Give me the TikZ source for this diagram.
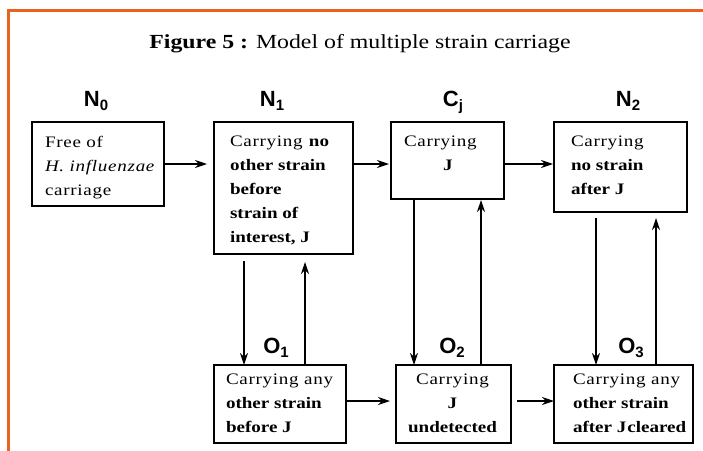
\documentclass[tikz,border=0pt]{standalone}
\usepackage{fontspec}
\usetikzlibrary{arrows.meta,calc}
\setmainfont{Liberation Serif}[FakeStretch=1.19]
\newfontfamily\boxfont{Liberation Serif}[FakeStretch=1.19,UprightFeatures={LetterSpace=4.5},ItalicFeatures={LetterSpace=4.5}]
\newfontfamily\labfont{Liberation Sans}
\definecolor{frameorange}{RGB}{236,98,28}
\newcommand{\statelab}[2]{{\labfont\bfseries\fontsize{22}{22}\selectfont #1\raisebox{-4pt}{\fontsize{15}{15}\selectfont #2}}}
\begin{document}
\begin{tikzpicture}[x=1pt,y=-1pt,
  box/.style={draw,line width=1.3pt,rectangle,inner sep=0pt,outer sep=0pt},
  txt/.style={inner sep=0pt,outer sep=0pt,align=left,anchor=north west,font=\boxfont\fontsize{16}{24}\selectfont},
  lab/.style={inner sep=0pt,anchor=base},
  arr/.style={line width=1.2pt,-{Stealth[length=12pt,width=8pt]}}]
\useasboundingbox (0,0) rectangle (703,450);
\draw[frameorange,line width=3pt] (8,451) -- (8,10) -- (704,10);

\node[anchor=base,inner sep=0pt,font=\fontsize{20}{24}\selectfont] (title) at (360,48) {\textbf{Figure 5 :} Model of multiple strain carriage};

% state labels
\node[lab] (n0lab) at (96,106) {\statelab{N}{0}};
\node[lab] (n1lab) at (272,106) {\statelab{N}{1}};
\node[lab] (cjlab) at (453,106) {\statelab{C}{j}};
\node[lab] (n2lab) at (628,106) {\statelab{N}{2}};
\node[lab] (o1lab) at (276,353) {\statelab{O}{1}};
\node[lab] (o2lab) at (452,353) {\statelab{O}{2}};
\node[lab] (o3lab) at (631,353) {\statelab{O}{3}};

% boxes
\node[box,minimum width=132pt,minimum height=84pt] (n0box) at (98,164) {};
\node[box,minimum width=139pt,minimum height=132pt] (n1box) at (283.5,188) {};
\node[box,minimum width=113pt,minimum height=77pt] (cjbox) at (447.5,160.5) {};
\node[box,minimum width=133pt,minimum height=90pt] (n2box) at (620.5,167) {};
\node[box,minimum width=132pt,minimum height=78pt] (o1box) at (280,404) {};
\node[box,minimum width=115pt,minimum height=78pt] (o2box) at (453.5,404) {};
\node[box,minimum width=139pt,minimum height=78pt] (o3box) at (623.5,404) {};

% box texts
\node[txt] (n0txt) at (45,136) {Free of\\\textit{H. influenzae}\\carriage};
\node[txt] (n1txt) at (230,136) {Carrying \textbf{no}\\\textbf{other strain}\\\textbf{before}\\\textbf{strain of}\\\textbf{interest, J}};
\node[txt] (cjtxt) at (404,136) {Carrying\\\hspace*{39pt}\textbf{J}};
\node[txt] (n2txt) at (571,136) {Carrying\\\textbf{no strain}\\\textbf{after J}};
\node[txt] (o1txt) at (226,374) {Carrying any\\\textbf{other strain}\\\textbf{before J}};
\node[txt,align=center,anchor=north] (o2txt) at (452.5,374) {Carrying\\\textbf{J}\\\textbf{undetected}};
\node[txt] (o3txt) at (573,374) {Carrying any\\\textbf{other strain}\\\textbf{after J\kern1pt cleared}};

% horizontal connectors, top row
\draw[arr,shorten >=7pt] (n0box.east) -- (n1box.west |- n0box.east);
\draw[arr,shorten >=2pt] (n1box.east |- n0box.east) -- (cjbox.west |- n0box.east);
\draw[arr,shorten >=1pt] (cjbox.east |- n0box.east) -- (n2box.west |- n0box.east);

% horizontal connectors, bottom row
\draw[arr,shorten >=6pt] ([yshift=3pt]o1box.east) -- ([yshift=3pt]o2box.west);
\draw[arr,shorten <=6pt] ([yshift=3pt]o2box.east) -- ([yshift=3pt]o3box.west);

% vertical connectors
\coordinate (n1d) at ([xshift=30pt]n1box.south west);
\coordinate (o1u) at ([xshift=91pt]o1box.north west);
\coordinate (cjd) at ([xshift=23pt]cjbox.south west);
\coordinate (o2u) at ([xshift=85pt]o2box.north west);
\coordinate (n2d) at ([xshift=42pt]n2box.south west);
\coordinate (o3u) at ([xshift=102pt]o3box.north west);

\draw[arr,shorten <=7pt] (n1d) -- (n1d |- o1box.north);
\draw[arr,shorten >=8pt] (o1u) -- (o1u |- n1box.south);
\draw[arr] (cjd) -- (cjd |- o2box.north);
\draw[arr,shorten >=1pt] (o2u) -- (o2u |- cjbox.south);
\draw[arr,shorten <=6pt] (n2d) -- (n2d |- o3box.north);
\draw[arr,shorten >=6pt] (o3u) -- (o3u |- n2box.south);
\end{tikzpicture}
\end{document}
